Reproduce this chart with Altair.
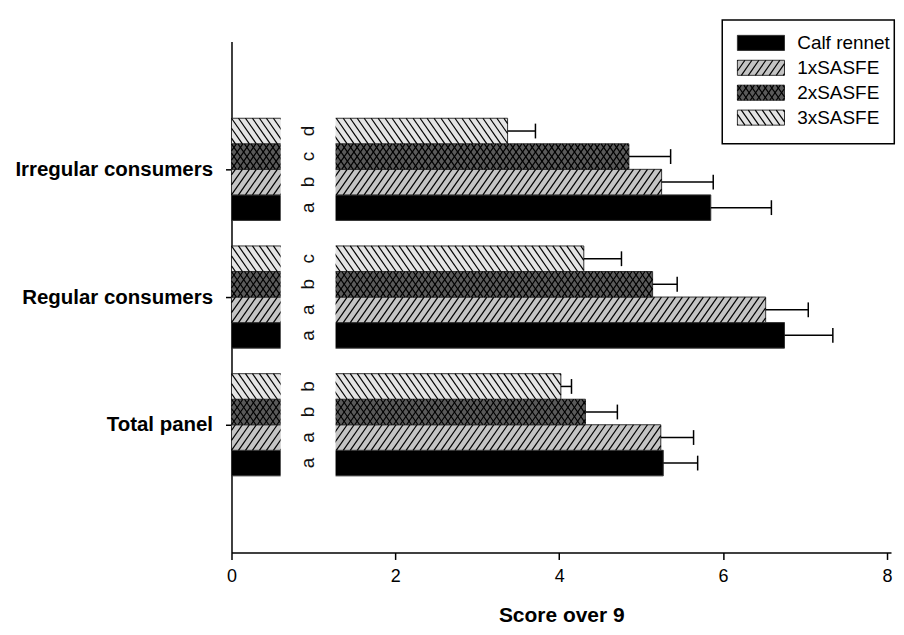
import altair as alt
import pandas as pd
import numpy as np

# ---------------- data ----------------
groups = ["Irregular consumers", "Regular consumers", "Total panel"]
treatments = ["Calf rennet", "1xSASFE", "2xSASFE", "3xSASFE"]

means_irregular = [5.85, 5.25, 4.85, 3.37]
means_regular = [6.75, 6.52, 5.14, 4.30]
means_total = [5.27, 5.24, 4.32, 4.02]

err_irregular = [0.74, 0.63, 0.51, 0.34]
err_regular = [0.59, 0.52, 0.30, 0.46]
err_total = [0.42, 0.40, 0.39, 0.13]

letters_irregular = ["a", "b", "c", "d"]
letters_regular = ["a", "a", "b", "c"]
letters_total = ["a", "a", "b", "b"]

x_ticks = [0, 2, 4, 6, 8]

# ---------------- layout / style constants ----------------
W, H = 661, 512
XMAX, YMAX = 8.05, 4.0
PX, PY = W / XMAX, H / YMAX
SLOT = 0.2
CAP = 0.058
LETTER_X = 0.94
MASK = (0.6, 1.27, 0.5, 3.5)
fills = ["#000000", "#c4c4c4", "#5a5a5a", "#e4e4e4"]
hatch_kinds = ["", "/", "x", "\\"]
spacing_px = [0, 7.0, 6.5, 7.0]
LEAN = 0.7

# legend placement (in axis units, outside the plot area)
LEG_BOX = (5.99, 8.09, 3.2, 4.17)
LEG_SW = (6.175, 6.75)
LEG_TXT_X = 6.905
LEG_TOP = 3.99
LEG_STEP = 0.195
LEG_HALF = 0.059

means = [means_irregular, means_regular, means_total]
errs = [err_irregular, err_regular, err_total]
letters = [letters_irregular, letters_regular, letters_total]

rows = []
for gi, g in enumerate(groups):
    centre = len(groups) - gi
    for ti, t in enumerate(treatments):
        y0 = centre - 2 * SLOT + SLOT * ti
        m, e = means[gi][ti], errs[gi][ti]
        rows.append(dict(group=g, treatment=t, mean=m, err=e, hi=m + e,
                         letter=letters[gi][ti], start=0.0,
                         y0=y0, y1=y0 + SLOT, yc=y0 + SLOT / 2,
                         cap0=y0 + SLOT / 2 - CAP, cap1=y0 + SLOT / 2 + CAP,
                         kind=hatch_kinds[ti], sp=spacing_px[ti]))
df = pd.DataFrame(rows)

leg_rows = []
for ti, t in enumerate(treatments):
    yc = LEG_TOP - ti * LEG_STEP
    leg_rows.append(dict(treatment=t, x0=LEG_SW[0], x1=LEG_SW[1], tx=LEG_TXT_X,
                         y0=yc - LEG_HALF, y1=yc + LEG_HALF, yc=yc,
                         kind=hatch_kinds[ti], sp=spacing_px[ti]))
leg_df = pd.DataFrame(leg_rows)


def hatch_lines(xa, xb, y0, y1, direction, sp):
    hpx = (y1 - y0) * PY
    dxu = LEAN * hpx / PX
    s = sp / PX
    out = []
    k0 = int(np.floor((xa - dxu) / s))
    k1 = int(np.ceil(xb / s))
    for k in range(k0, k1 + 1):
        xs = k * s
        t0 = max(0.0, (xa - xs) / dxu)
        t1 = min(1.0, (xb - xs) / dxu)
        if t1 - t0 <= 1e-6:
            continue
        if direction == "/":
            ya, yb = y0 + t0 * (y1 - y0), y0 + t1 * (y1 - y0)
        else:
            ya, yb = y1 - t0 * (y1 - y0), y1 - t1 * (y1 - y0)
        out.append(dict(hx=xs + t0 * dxu, hx2=xs + t1 * dxu, hy=ya, hy2=yb))
    return out


DIRS = {"/": ["/"], "\\": ["\\"], "x": ["/", "\\"]}

hrows = []
for _, r in df.iterrows():
    for d in DIRS.get(r["kind"], []):
        hrows += hatch_lines(0.0, r["mean"], r["y0"], r["y1"], d, r["sp"])
for _, r in leg_df.iterrows():
    for d in DIRS.get(r["kind"], []):
        hrows += hatch_lines(r["x0"], r["x1"], r["y0"], r["y1"], d, r["sp"])
hatch_df = pd.DataFrame(hrows)

mask_df = pd.DataFrame({"mx": [MASK[0]], "mx2": [MASK[1]], "my": [MASK[2]], "my2": [MASK[3]]})
box_df = pd.DataFrame({"bx": [LEG_BOX[0]], "bx2": [LEG_BOX[1]], "by": [LEG_BOX[2]], "by2": [LEG_BOX[3]]})

xs = alt.Scale(domain=[0, XMAX], nice=False)
ys = alt.Scale(domain=[0, YMAX], nice=False)
fill_scale = alt.Scale(domain=treatments, range=fills)

label_expr = (f"datum.value == 3 ? '{groups[0]}' : datum.value == 2 ? '{groups[1]}' : "
              f"datum.value == 1 ? '{groups[2]}' : ''")

x_axis = alt.Axis(
    values=x_ticks, title="Score over 9", titleFontSize=21, titleFontWeight="bold",
    titlePadding=19, labelFontSize=18, labelPadding=8, tickSize=7, tickWidth=1.5,
    domainWidth=1.5, grid=False, labelFlush=False)
y_axis = alt.Axis(
    values=[1, 2, 3], labelExpr=label_expr, title=None, labelFontSize=20.5,
    labelFontWeight="bold", tickSize=6, tickWidth=1.5, labelPadding=13,
    labelLimit=400, domainWidth=1.5, grid=False)

bars = alt.Chart(df).mark_rect(stroke="#333333", strokeWidth=1).encode(
    x=alt.X("start:Q", scale=xs, axis=x_axis),
    x2="mean:Q",
    y=alt.Y("y0:Q", scale=ys, axis=y_axis),
    y2="y1:Q",
    fill=alt.Fill("treatment:N", scale=fill_scale, legend=None),
)

box = alt.Chart(box_df).mark_rect(fill="white", stroke="black", strokeWidth=1.5).encode(
    x=alt.X("bx:Q", axis=x_axis), x2="bx2:Q", y=alt.Y("by:Q", axis=y_axis), y2="by2:Q")

swatches = alt.Chart(leg_df).mark_rect(stroke="#333333", strokeWidth=1).encode(
    x=alt.X("x0:Q", axis=x_axis), x2="x1:Q", y=alt.Y("y0:Q", axis=y_axis), y2="y1:Q",
    fill=alt.Fill("treatment:N", scale=fill_scale, legend=None))

leg_text = alt.Chart(leg_df).mark_text(
    align="left", baseline="middle", fontSize=19, font="Liberation Sans", color="black").encode(
    x=alt.X("tx:Q", axis=x_axis), y=alt.Y("yc:Q", axis=y_axis), text="treatment:N")

hatches = alt.Chart(hatch_df).mark_rule(color="black", strokeWidth=1.2).encode(
    x=alt.X("hx:Q", axis=x_axis), x2="hx2:Q", y=alt.Y("hy:Q", axis=y_axis), y2="hy2:Q")

mask = alt.Chart(mask_df).mark_rect(color="white").encode(
    x=alt.X("mx:Q", axis=x_axis), x2="mx2:Q", y=alt.Y("my:Q", axis=y_axis), y2="my2:Q")

letter_layer = alt.Chart(df).transform_calculate(lx=str(LETTER_X)).mark_text(
    angle=270, fontSize=19, font="Liberation Sans", color="#111111",
    align="center", baseline="middle").encode(
    x=alt.X("lx:Q", axis=x_axis), y=alt.Y("yc:Q", axis=y_axis), text="letter:N")

whisker = alt.Chart(df).mark_rule(color="black", strokeWidth=1.5).encode(
    x=alt.X("mean:Q", axis=x_axis), x2="hi:Q", y=alt.Y("yc:Q", axis=y_axis))

cap = alt.Chart(df).mark_rule(color="black", strokeWidth=1.5).encode(
    x=alt.X("hi:Q", axis=x_axis), y=alt.Y("cap0:Q", axis=y_axis), y2="cap1:Q")

chart = alt.layer(bars, box, swatches, hatches, mask, letter_layer, whisker, cap, leg_text).properties(
    width=W, height=H, padding={"left": 6, "top": 10, "right": 0, "bottom": 4}
).configure_view(stroke=None).configure_axis(
    labelFont="Liberation Sans", titleFont="Liberation Sans",
    labelColor="black", titleColor="black", domainColor="black", tickColor="black")

chart.save("out.html", embed_options={"renderer": "svg", "actions": False})
